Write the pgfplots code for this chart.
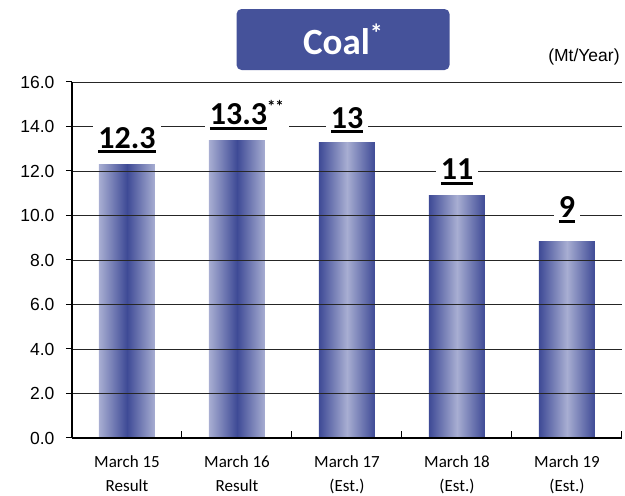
\documentclass[border=0pt]{standalone}
\usepackage{fontspec}
\setmainfont{Carlito}
\newfontfamily\arial{Liberation Sans}
\usepackage{pgfplots}
\pgfplotsset{compat=1.18}
\definecolor{bdark}{RGB}{62,74,150}
\definecolor{blight}{RGB}{168,174,210}
\definecolor{titlebg}{RGB}{69,82,154}
\newcommand{\ul}[1]{\setbox0\hbox{#1}\rlap{\rule[-5pt]{\wd0}{3pt}}\box0}
\pgfplotsset{
  barA/.style={ybar, bar width=56pt, bar shift=0pt, draw=none, left color=blight, right color=blight, middle color=bdark},
  barB/.style={ybar, bar width=56pt, bar shift=0pt, draw=none, left color=bdark, right color=bdark, middle color=blight},
}
\tikzset{vlab/.style={fill=white, inner sep=5pt, anchor=base, font=\bfseries\fontsize{32}{32}\selectfont}}
\begin{document}
\begin{tikzpicture}
\useasboundingbox (-72pt,-58pt) rectangle (553pt,438pt);
\begin{axis}[
  axis on top,
  at={(0,0)}, anchor=south west,
  scale only axis, width=550pt, height=356pt,
  xmin=-0.5, xmax=4.5, ymin=0, ymax=16,
  axis x line=bottom, axis y line=left,
  axis line style={-, line width=1.2pt, black},
  ytick={0,2,...,16},
  ymajorgrids, grid style={black!85, line width=0.9pt},
  xtick={0,...,4},
  xticklabels={March 15\\Result, March 16\\Result, March 17\\(Est.), March 18\\(Est.), March 19\\(Est.)},
  minor xtick={-0.5,0.5,...,4.5},
  xtick align=inside, ytick align=outside,
  major x tick style={draw=none},
  minor x tick style={black, line width=1pt},
  major y tick style={black, line width=1pt},
  major tick length=6pt, minor tick length=7pt,
  xticklabel style={font=\fontsize{17}{24}\selectfont, align=center, yshift=-14pt},
  yticklabel style={font=\arial\fontsize{17.5}{17.5}\selectfont, xshift=-8pt},
  /pgf/number format/.cd, fixed, fixed zerofill, precision=1, assume math mode=true,
  /pgfplots/.cd,
  clip=false,
]
\addplot[barA] coordinates {(0,12.31)};
\addplot[barA] coordinates {(1,13.35)};
\addplot[barB] coordinates {(2,13.26)};
\addplot[barB] coordinates {(3,10.92)};
\addplot[barB] coordinates {(4,8.85)};
\coordinate (L1) at (axis cs:0,13.03);
\coordinate (L2) at (axis cs:1.09,14.07);
\coordinate (L3) at (axis cs:2,13.93);
\coordinate (L4) at (axis cs:3,11.6);
\coordinate (L5) at (axis cs:4,9.89);
\coordinate (T) at (axis cs:1.964,17.91);
\coordinate (U) at (axis cs:4.48,17.12);
\end{axis}
\node[vlab] at (L1) {\ul{12.3}};
\node[vlab] at (L2) {\ul{13.3}\raisebox{12pt}{\fontsize{17}{17}\selectfont **}};
\node[vlab] at (L3) {\ul{13}};
\node[vlab] at (L4) {\ul{11}};
\node[vlab] at (L5) {\ul{9}};
\node[fill=titlebg, rounded corners=5pt, minimum width=213pt, minimum height=61pt, text=white, font=\bfseries\fontsize{37}{37}\selectfont] at (T) {Coal\raisebox{12pt}{\fontsize{26}{26}\selectfont *}};
\node[anchor=east, font=\arial\fontsize{17.5}{17.5}\selectfont, inner sep=0pt] at (U) {(Mt/Year)};
\end{tikzpicture}
\end{document}
